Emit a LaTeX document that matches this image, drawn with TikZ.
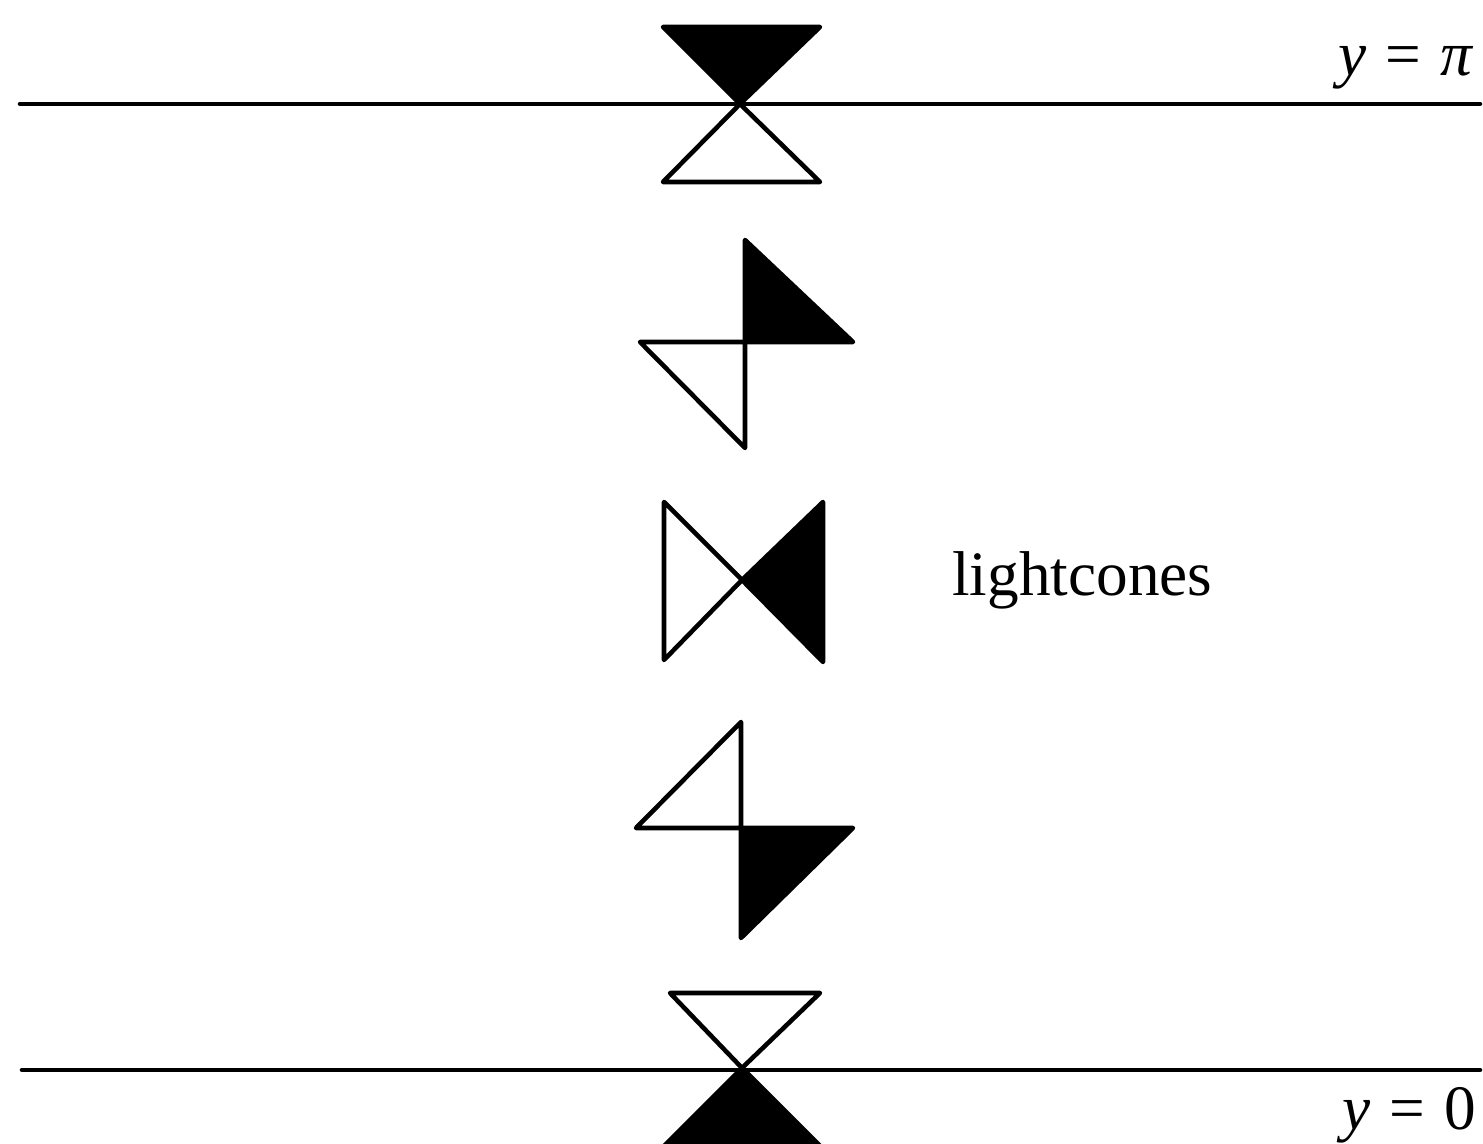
\documentclass[tikz,border=0pt]{standalone}
\usepackage{fontspec}
\setmainfont{Liberation Serif}
\usetikzlibrary{calc}

\begin{document}
\begin{tikzpicture}[line width=1.3pt, line join=round, line cap=round,
    lightcone/.style={draw=black, fill=white},
    darkcone/.style={draw=black, fill=black},
    lbl/.style={font=\fontsize{18}{20}\selectfont, inner sep=0pt}]
                \useasboundingbox (0,0) rectangle (14.83,11.44);
                \clip (0,0) rectangle (14.83,11.44);
                % apexes of the cones
                \coordinate (T) at (7.40,10.40);
                \coordinate (A) at (7.45,8.02);
                \coordinate (B) at (7.42,5.64);
                \coordinate (C) at (7.41,3.16);
                \coordinate (D) at (7.42,0.76);
                % boundary lines
                \draw (0.20,10.40) -- (14.80,10.40);
                \draw (0.22,0.74) -- (14.80,0.74);
                % y = pi
                \fill[darkcone] (T) -- (6.63,11.17) -- (8.20,11.17) -- cycle;
                \draw[lightcone] (T) -- (6.63,9.62) -- (8.20,9.62) -- cycle;
                % tilted
                \fill[darkcone] (A) -- (7.45,9.04) -- (8.53,8.02) -- cycle;
                \draw[lightcone] (A) -- (6.40,8.02) -- (7.45,6.96) -- cycle;
                % sideways
                \draw[lightcone] (B) -- (6.64,6.42) -- (6.64,4.84) -- cycle;
                \fill[darkcone] (B) -- (8.23,6.42) -- (8.23,4.82) -- cycle;
                % tilted the other way
                \draw[lightcone] (C) -- (7.41,4.22) -- (6.36,3.16) -- cycle;
                \fill[darkcone] (C) -- (8.53,3.16) -- (7.41,2.06) -- cycle;
                % y = 0
                \draw[lightcone] (D) -- (6.70,1.51) -- (8.20,1.51) -- cycle;
                \fill[darkcone] (D) -- (6.36,-0.30) -- (8.48,-0.30) -- cycle;
                % labels
                \node[lbl, anchor=base east] (ypi) at (14.76,10.68) {\textit{y}\hspace{0.3em}=\hspace{0.3em}\textit{π}};
                \node[lbl, anchor=base east] (yzero) at (14.78,0.14) {\textit{y}\hspace{0.3em}=\hspace{0.3em}0};
                \node[lbl, anchor=west] (lc) at (9.50,5.64) {lightcones};
\end{tikzpicture}
\end{document}
